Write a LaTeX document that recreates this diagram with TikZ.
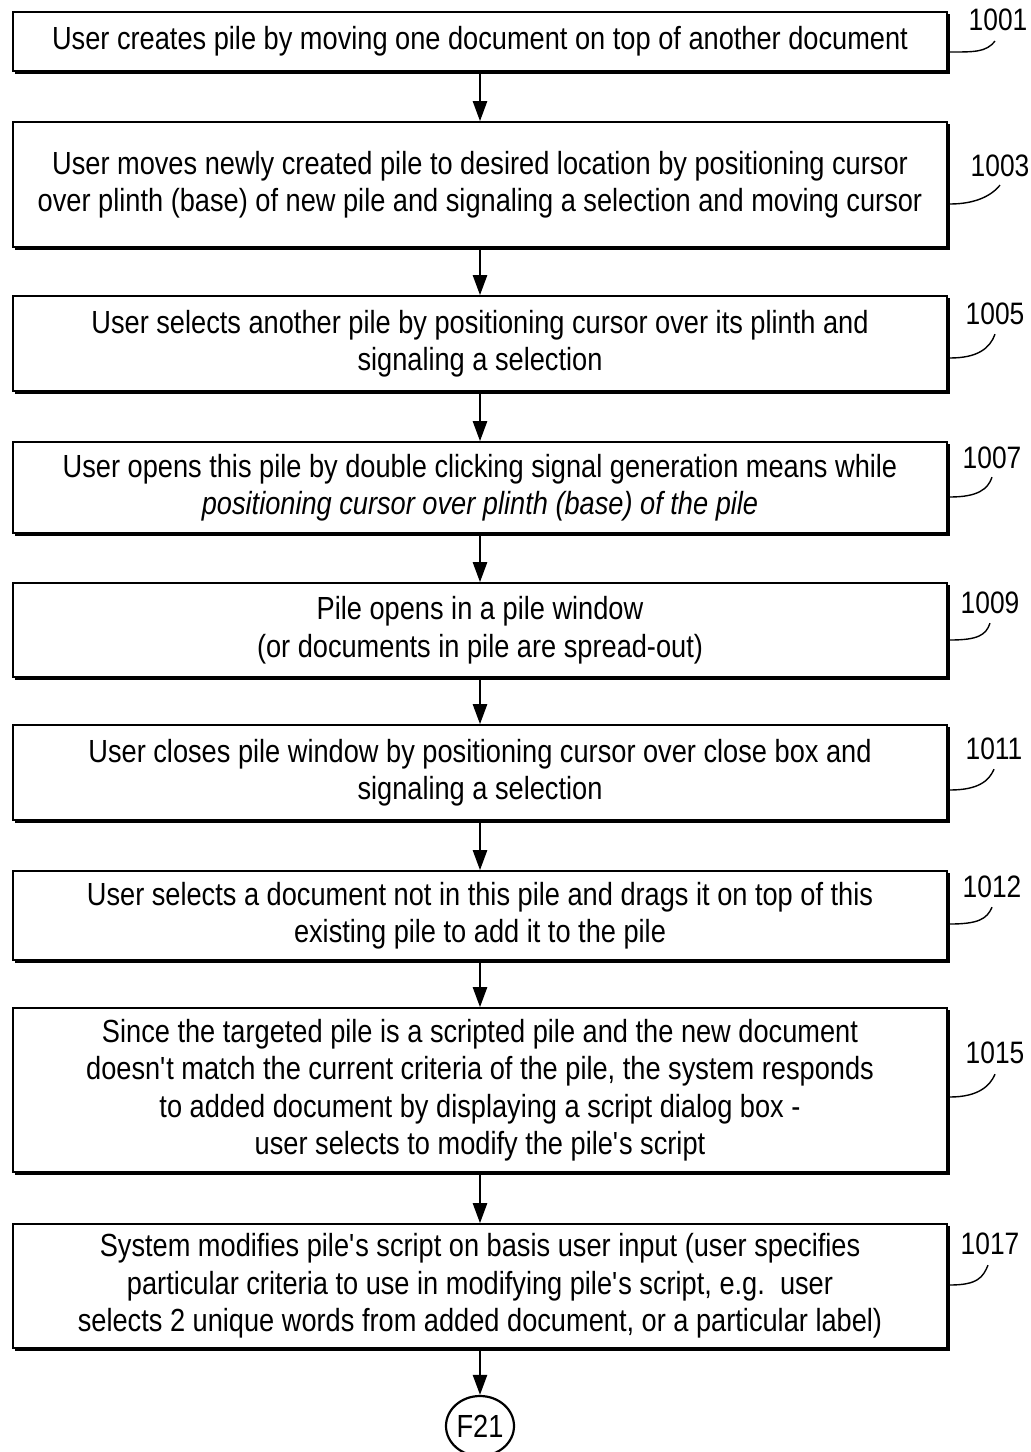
\documentclass[tikz,border=0pt]{standalone}
\usepackage{fontspec}
\setmainfont[FakeStretch=0.85]{Liberation Sans}
\usetikzlibrary{arrows.meta,shapes.geometric,calc}
\newcommand\boxfont{\fontsize{32}{37.5}\selectfont}
\newcommand\reffont{\fontsize{31}{34}\selectfont}
\newcommand\apo{\textquotesingle}
\tikzset{
  flowbox/.style={draw, line width=1.6pt, minimum width=934pt, align=center, inner sep=0pt, font=\boxfont},
  shadeedge/.style={line width=4pt, line cap=butt, line join=miter},
  flowarrow/.style={line width=2.4pt, -{Triangle[length=20pt,width=14pt]}},
  leader/.style={line width=1.4pt},
  reflabel/.style={font=\reffont, inner sep=0pt},
  connector/.style={draw, ellipse, line width=2.2pt, minimum width=68pt, minimum height=60pt, inner sep=0pt, font=\boxfont}
}
\begin{document}
\begin{tikzpicture}[x=1pt,y=-1pt]
\useasboundingbox (0,0) rectangle (1031,1452);

\node[flowbox, minimum height=59pt] (b1) at (480,41.5)
  {User creates pile by moving one document on top of another document};
\node[flowbox, minimum height=125pt] (b2) at (480,184.5)
  {User moves newly created pile to desired location by positioning cursor\\over plinth (base) of new pile and signaling a selection and moving cursor};
\node[flowbox, minimum height=95pt] (b3) at (480,343.5)
  {User selects another pile by positioning cursor over its plinth and\\signaling a selection};
\node[flowbox, minimum height=91pt] (b4) at (480,487.5)
  {User opens this pile by double clicking signal generation means while\\\textit{positioning cursor over plinth (base) of the pile}};
\node[flowbox, minimum height=94pt] (b5) at (480,630)
  {Pile opens in a pile window\\(or documents in pile are spread-out)};
\node[flowbox, minimum height=95pt] (b6) at (480,772.5)
  {User closes pile window by positioning cursor over close box and\\signaling a selection};
\node[flowbox, minimum height=89pt] (b7) at (480,915.5)
  {User selects a document not in this pile and drags it on top of this\\existing pile to add it to the pile};
\node[flowbox, minimum height=164pt] (b8) at (480,1090)
  {Since the targeted pile is a scripted pile and the new document\\doesn\apo t match the current criteria of the pile, the system responds\\to added document by displaying a script dialog box -\\user selects to modify the pile\apo s script};
\node[flowbox, minimum height=124pt] (b9) at (480,1286)
  {System modifies pile\apo s script on basis user input (user specifies\\particular criteria to use in modifying pile\apo s script, e.g.\ \ user\\selects 2 unique words from added document, or a particular label)};

\node[connector] (f21) at (480,1426) {F21};

\foreach \b in {b1,b2,b3,b4,b5,b6,b7,b8,b9}
  \draw[shadeedge] ($(\b.north east)+(0,3)$) -- (\b.south east) -- ($(\b.south west)+(3,0)$);

\draw[flowarrow] (b1.south) -- (b2.north);
\draw[flowarrow] (b2.south) -- (b3.north);
\draw[flowarrow] (b3.south) -- (b4.north);
\draw[flowarrow] (b4.south) -- (b5.north);
\draw[flowarrow] (b5.south) -- (b6.north);
\draw[flowarrow] (b6.south) -- (b7.north);
\draw[flowarrow] (b7.south) -- (b8.north);
\draw[flowarrow] (b8.south) -- (b9.north);
\draw[flowarrow] (b9.south) -- (f21.north);

% reference numerals
\node[reflabel] (l1) at (998,20) {1001};
\node[reflabel] (l3) at (1000,166) {1003};
\node[reflabel] (l5) at (995,314) {1005};
\node[reflabel] (l7) at (992,458) {1007};
\node[reflabel] (l9) at (990,603) {1009};
\node[reflabel] (l11) at (994,749) {1011};
\node[reflabel] (l12) at (992,887) {1012};
\node[reflabel] (l15) at (995,1053) {1015};
\node[reflabel] (l17) at (990,1244) {1017};

\draw[leader] ($(b1.east)+(2,10.5)$) .. controls +(25,0) and +(-9,11) .. ($(l1.south)+(-3,10)$);
\draw[leader] ($(b2.east)+(2,19.5)$) .. controls +(25,0) and +(-9,11) .. ($(l3.south)+(0,8)$);
\draw[leader] ($(b3.east)+(2,14.5)$) .. controls +(28,0) and +(-5,14) .. ($(l5.south)+(0,9)$);
\draw[leader] ($(b4.east)+(2,9.5)$) .. controls +(28,0) and +(-4,12) .. ($(l7.south)+(0,8)$);
\draw[leader] ($(b5.east)+(2,10)$) .. controls +(28,0) and +(-4,12) .. ($(l9.south)+(0,9)$);
\draw[leader] ($(b6.east)+(2,17.5)$) .. controls +(28,0) and +(-5,12) .. ($(l11.south)+(0,9)$);
\draw[leader] ($(b7.east)+(2,8.5)$) .. controls +(28,0) and +(-5,12) .. ($(l12.south)+(0,9)$);
\draw[leader] ($(b8.east)+(2,7)$) .. controls +(28,0) and +(-5,12) .. ($(l15.south)+(0,10)$);
\draw[leader] ($(b9.east)+(2,-1)$) .. controls +(28,0) and +(-5,12) .. ($(l17.south)+(-2,10)$);
\end{tikzpicture}
\end{document}
